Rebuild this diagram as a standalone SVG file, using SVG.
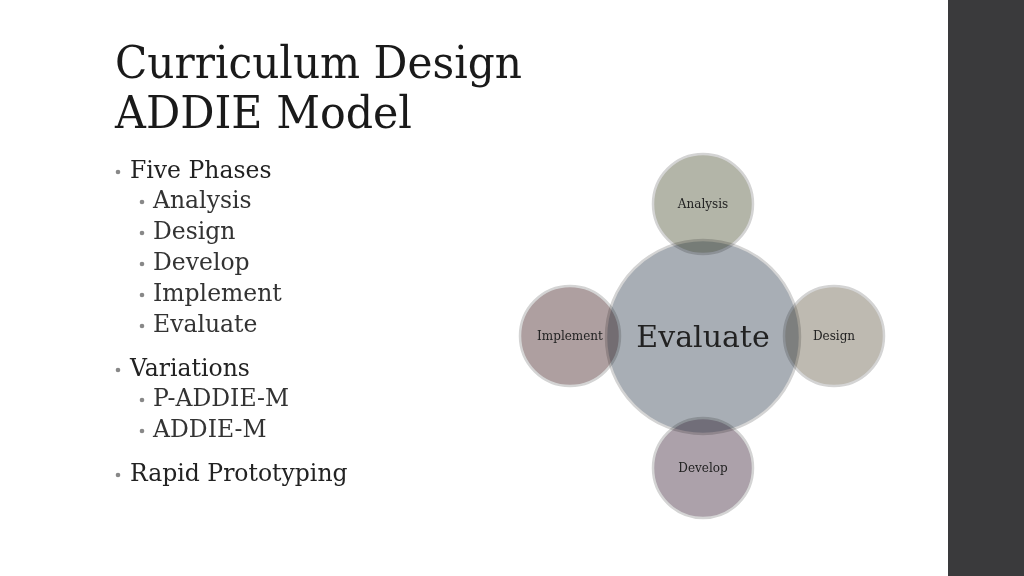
<svg xmlns="http://www.w3.org/2000/svg" width="1024" height="576" viewBox="0 0 1024 576">
<style>
.t{font-family:"DejaVu Serif","Liberation Serif",serif;fill:#1a1a1a}
.title{font-size:45px}
.b1{font-size:23.5px;fill:#222}
.b2{font-size:23.5px;fill:#333}
.dot{fill:#888}
.lbl{font-family:"DejaVu Serif","Liberation Serif",serif;font-size:12px;fill:#222;text-anchor:middle}
.circ{stroke:#d4d4d4;stroke-width:2.5}
.sm{mix-blend-mode:multiply}
</style>
<rect width="1024" height="576" fill="#ffffff"/>
<rect x="948" y="0" width="76" height="576" fill="#3a3a3c"/>
<g id="title">
<text class="t title" x="115" y="78" textLength="407" lengthAdjust="spacingAndGlyphs">Curriculum Design</text>
<text class="t title" x="115" y="128" textLength="297" lengthAdjust="spacingAndGlyphs">ADDIE Model</text>
</g>
<g id="bullets">
<circle class="dot" cx="118" cy="172" r="2.3"/><text class="t b1" x="130" y="178">Five Phases</text>
<circle class="dot" cx="142" cy="202" r="2.3"/><text class="t b2" x="153" y="208">Analysis</text>
<circle class="dot" cx="142" cy="233" r="2.3"/><text class="t b2" x="153" y="239">Design</text>
<circle class="dot" cx="142" cy="264" r="2.3"/><text class="t b2" x="153" y="270">Develop</text>
<circle class="dot" cx="142" cy="295" r="2.3"/><text class="t b2" x="153" y="301">Implement</text>
<circle class="dot" cx="142" cy="326" r="2.3"/><text class="t b2" x="153" y="332">Evaluate</text>
<circle class="dot" cx="118" cy="370" r="2.3"/><text class="t b1" x="130" y="376">Variations</text>
<circle class="dot" cx="142" cy="400" r="2.3"/><text class="t b2" x="153" y="406">P-ADDIE-M</text>
<circle class="dot" cx="142" cy="431" r="2.3"/><text class="t b2" x="153" y="437">ADDIE-M</text>
<circle class="dot" cx="118" cy="475" r="2.3"/><text class="t b1" x="130" y="481">Rapid Prototyping</text>
</g>
<g id="connectors"></g>
<g id="evaluate">
<circle class="circ" cx="703" cy="337" r="97" fill="#a8aeb5"/>
</g>
<g id="analysis">
<circle class="circ sm" cx="703" cy="204" r="50" fill="#b3b5a8"/>
</g>
<g id="design">
<circle class="circ sm" cx="834" cy="336" r="50" fill="#bebab1"/>
</g>
<g id="develop">
<circle class="circ sm" cx="703" cy="468" r="50" fill="#aca1aa"/>
</g>
<g id="implement">
<circle class="circ sm" cx="570" cy="336" r="50" fill="#ae9fa0"/>
</g>
<g id="labels">
<text class="lbl" x="703" y="347" style="font-size:30px">Evaluate</text>
<text class="lbl" x="703" y="208">Analysis</text>
<text class="lbl" x="834" y="340">Design</text>
<text class="lbl" x="703" y="472">Develop</text>
<text class="lbl" x="570" y="340">Implement</text>
</g>
</svg>
